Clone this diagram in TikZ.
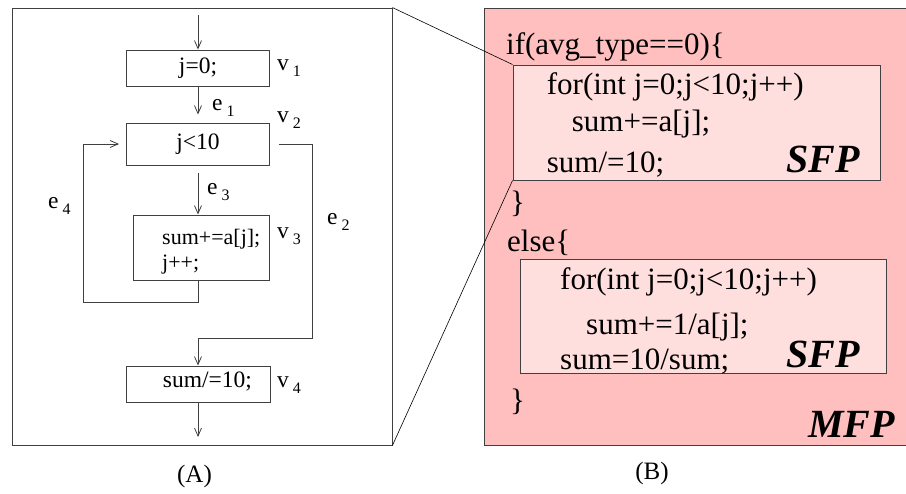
\documentclass[tikz,border=0pt]{standalone}
\usepackage{fontspec}
\setmainfont{Liberation Serif}
\usetikzlibrary{arrows.meta}
\definecolor{mfppink}{HTML}{FFBFBF}
\definecolor{sfppink}{HTML}{FFDEDE}
\definecolor{edge}{HTML}{404040}
\newcommand{\sublab}[2]{#1\,\raisebox{-6pt}{\fontsize{16}{16}\selectfont #2}}

\begin{document}
\begin{tikzpicture}[x=1pt,y=-1pt,
  blk/.style={draw=edge,line width=0.9pt,inner sep=0pt},
  arr/.style={draw=edge,line width=0.8pt,-{Straight Barb[length=8pt,width=7pt]}},
  small/.style={inner sep=0pt,font=\fontsize{23.5}{26}\selectfont},
  code/.style={inner sep=0pt,anchor=base west,font=\fontsize{31}{38}\selectfont},
  tag/.style={inner sep=0pt,anchor=base east,font=\fontsize{40}{40}\selectfont\bfseries\itshape}]
  \useasboundingbox (0,0) rectangle (906,494);
  % (A) control flow graph
  \node[blk,minimum width=380pt,minimum height=437pt] (A) at (202,226.5) {};
  \node[blk,small,minimum width=143pt,minimum height=36pt] (v1) at (198,68) {j=0;};
  \node[blk,small,minimum width=143pt,minimum height=42pt] (v2) at (198,144) {j<10};
  \node[blk,minimum width=136pt,minimum height=65pt] (v3) at (201,247.5) {};
  \node[small,anchor=base west,align=left,font=\fontsize{22}{25}\selectfont] (v3txt) at (162,270) {sum+=a[j];\\j++;};
  \node[blk,minimum width=144pt,minimum height=36pt] (v4) at (198,384) {};
  \node[small,anchor=base west] (v4txt) at (162.7,388) {sum/=10;};
  \node[small,anchor=base west] (lv1) at (277,71) {\sublab{v}{1}};
  \node[small,anchor=base west] (lv2) at (277,123) {\sublab{v}{2}};
  \node[small,anchor=base west] (lv3) at (277,239) {\sublab{v}{3}};
  \node[small,anchor=base west] (lv4) at (277,388) {\sublab{v}{4}};
  \node[small,anchor=base west] (le1) at (212,111) {\sublab{e}{1}};
  \node[small,anchor=base west] (le2) at (327,225) {\sublab{e}{2}};
  \node[small,anchor=base west] (le3) at (207,195) {\sublab{e}{3}};
  \node[small,anchor=base west] (le4) at (48,209) {\sublab{e}{4}};
  \coordinate (in) at (198,15);
  \coordinate (out) at (198,437);
  \coordinate (c4) at (83,302);
  \coordinate (c2) at (312,338);
  \draw[arr] (in) -- (v1);
  \draw[arr,shorten >=8pt] (v1) -- (v2);
  \draw[arr,shorten <=8pt] (v2.south) -- (v2.south |- v3.north);
  \draw[arr,shorten >=7pt] (v2.south |- v3.south) |- (c4) |- (v2.west);
  \draw[arr,shorten <=9pt] (v2.east) -| (c2) -| (v4.north);
  \draw[arr] (v4) -- (out);
  % (B) source code
  \node[blk,fill=mfppink,minimum width=430pt,minimum height=437pt] (B) at (699,226.5) {};
  \node[blk,fill=sfppink,minimum width=367pt,minimum height=115pt] (s1) at (696.5,122.5) {};
  \node[blk,fill=sfppink,minimum width=366pt,minimum height=114pt] (s2) at (703.7,316) {};
  \draw[line width=0.6pt] (A.north east) -- (s1.north west);
  \draw[line width=0.6pt] (A.south east) -- (s1.south west);
  \node[code] (ifln) at (506,55) {if(avg\_type==0)\{};
  \node[code] (for1) at (546.7,95) {for(int j=0;j<10;j++)};
  \node[code] (add1) at (571.7,132) {sum+=a[j];};
  \node[code] (div1) at (546.7,173) {sum/=10;};
  \node[tag] (sfp1) at (860,173) {SFP};
  \node[code] (cls1) at (510,213) {\}};
  \node[code] (elln) at (507,252) {else\{};
  \node[code] (for2) at (560,290) {for(int j=0;j<10;j++)};
  \node[code] (add2) at (586,335) {sum+=1/a[j];};
  \node[code] (div2) at (560,370) {sum=10/sum;};
  \node[tag] (sfp2) at (860,368) {SFP};
  \node[code] (cls2) at (510,411) {\}};
  \node[tag] (mfp) at (895,438) {MFP};
  % captions
  \node[small,anchor=base,font=\fontsize{25}{25}\selectfont] (capA) at (194.5,483) {(A)};
  \node[small,anchor=base,font=\fontsize{25}{25}\selectfont] (capB) at (652,480) {(B)};
\end{tikzpicture}
\end{document}
